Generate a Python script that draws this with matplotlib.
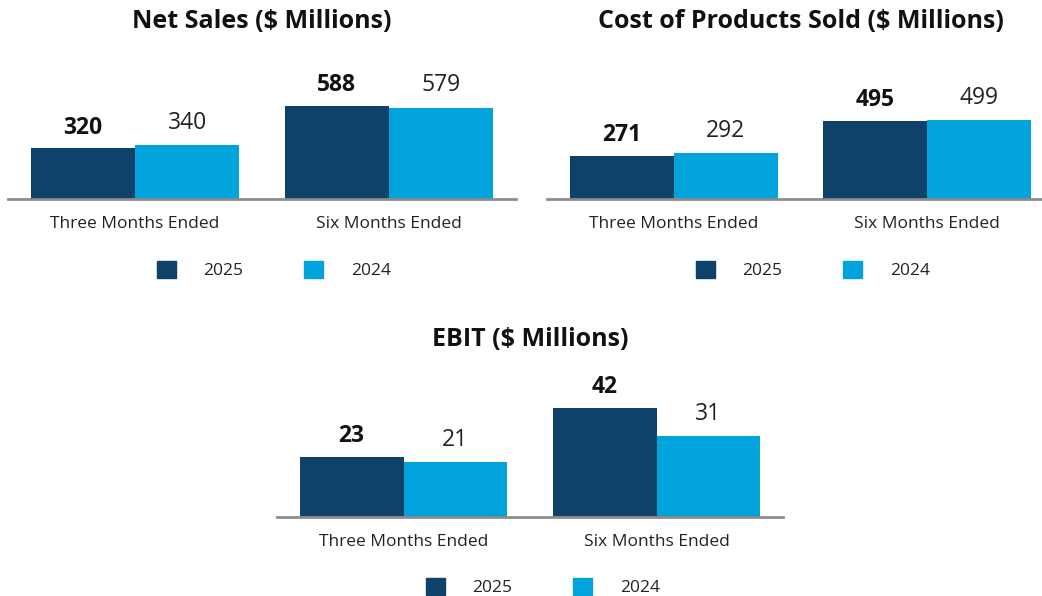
import matplotlib.pyplot as plt
from matplotlib.patches import Patch
import numpy as np

plt.rcParams['font.family'] = ['Open Sans', 'DejaVu Sans']

categories = ["Three Months Ended", "Six Months Ended"]
years = ["2025", "2024"]
net_sales_2025 = [320, 588]
net_sales_2024 = [340, 579]
cost_2025 = [271, 495]
cost_2024 = [292, 499]
ebit_2025 = [23, 42]
ebit_2024 = [21, 31]

DARK = "#0f426b"
LIGHT = "#00a3dc"
W, H = 1042, 596

fig = plt.figure(figsize=(W / 100, H / 100), dpi=100)


def px_axes(left, top, right, bottom):
    return fig.add_axes([left / W, 1 - bottom / H, (right - left) / W, (bottom - top) / H])


def panel(ax, title, v25, v24, ymax, title_y, legend_y, legend_x):
    x = np.arange(len(categories))
    bw = 0.41
    b1 = ax.bar(x - bw / 2, v25, bw, color=DARK)
    b2 = ax.bar(x + bw / 2, v24, bw, color=LIGHT)
    for r, v in zip(b1, v25):
        ax.annotate(str(v), (r.get_x() + r.get_width() / 2, v), xytext=(0, 15),
                    textcoords="offset points", ha="center", va="center",
                    fontsize=16.5, fontweight="bold", color="#111111")
    for r, v in zip(b2, v24):
        ax.annotate(str(v), (r.get_x() + r.get_width() / 2, v), xytext=(0, 16),
                    textcoords="offset points", ha="center", va="center",
                    fontsize=16.5, color="#222222")
    ax.set_xlim(-0.5, 1.5)
    ax.set_ylim(0, ymax)
    ax.set_xticks(x)
    ax.set_xticklabels(categories, fontsize=12.5, color="#222222")
    ax.tick_params(axis="x", length=0, pad=12)
    ax.set_yticks([])
    for s in ["left", "right", "top"]:
        ax.spines[s].set_visible(False)
    ax.spines["bottom"].set_color("#8c8c8c")
    ax.spines["bottom"].set_linewidth(2)
    ax.patch.set_alpha(0)
    pos = ax.get_position()
    fig.text(pos.x0 + pos.width / 2, 1 - title_y / H, title, ha="center", va="center",
             fontsize=18, fontweight="bold", color="#111111")
    handles = [Patch(color=DARK, label=years[0]), Patch(color=LIGHT, label=years[1])]
    fig.legend(handles=handles, loc="center", bbox_to_anchor=(legend_x / W, 1 - legend_y / H),
               ncol=2, frameon=False, fontsize=12.5, handlelength=1.1, handleheight=1.1,
               handletextpad=1.6, columnspacing=3.5, labelcolor="#222222")


ax1 = px_axes(8, 70, 516, 199)
panel(ax1, "Net Sales ($ Millions)", net_sales_2025, net_sales_2024, 129 / 0.158, 21, 270, 274)

ax2 = px_axes(547, 70, 1054, 199)
panel(ax2, "Cost of Products Sold ($ Millions)", cost_2025, cost_2024, 129 / 0.158, 21, 270, 813)

ax3 = px_axes(277, 390, 783, 517)
panel(ax3, "EBIT ($ Millions)", ebit_2025, ebit_2024, 127 / 2.6, 339, 587, 543)

fig.savefig("out.png", dpi=100)
